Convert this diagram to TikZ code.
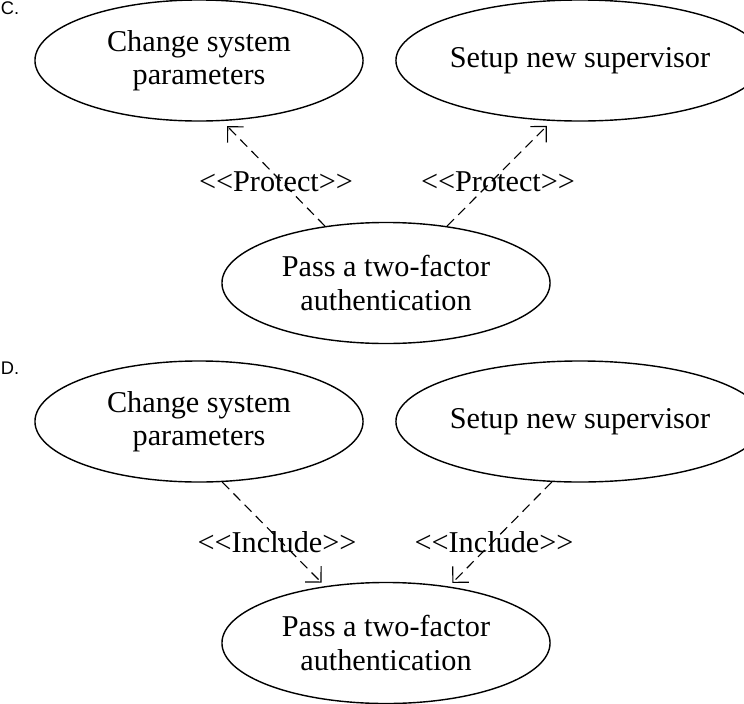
\documentclass[tikz,border=0pt]{standalone}
\usepackage{fontspec}
\setmainfont{Liberation Serif}
\newfontfamily\partfont{Liberation Sans}
\usetikzlibrary{shapes.geometric,arrows.meta}
\begin{document}
\begin{tikzpicture}[x=0.025cm,y=-0.025cm,
  usecase/.style={draw,ellipse,line width=1pt,minimum width=8.2cm,minimum height=3.025cm,
    inner sep=0pt,align=center,font=\fontsize{21.5}{23.5}\selectfont},
  stereo/.style={inner sep=0pt,font=\fontsize{21.5}{23.5}\selectfont},
  dep/.style={dashed,dash pattern=on 7pt off 4.3pt,line width=0.8pt,
    -{Straight Barb[length=8pt,width=16pt]},shorten >=5pt},
  partlabel/.style={inner sep=0pt,font=\partfont\fontsize{13}{15}\selectfont}]
\useasboundingbox (0,0) rectangle (744,704);
% C.
\node[partlabel] (partC) at (10,8) {C.};
\node[usecase] (chgC) at (199,60.5) {Change system\\parameters};
\node[usecase] (setC) at (580,60.5) {Setup new supervisor};
\node[usecase] (passC) at (386,283) {Pass a two-factor\\authentication};
\draw[dep] (passC.137) -- (chgC.-69.5);
\draw[dep] (passC.43) -- (setC.-115.5);
\node[stereo] (protL) at (276,182) {{<}{<}Protect{>}{>}};
\node[stereo] (protR) at (498,182) {{<}{<}Protect{>}{>}};
% D.
\node[partlabel] (partD) at (10,368) {D.};
\node[usecase] (chgD) at (199,421.5) {Change system\\parameters};
\node[usecase] (setD) at (580,421.5) {Setup new supervisor};
\node[usecase] (passD) at (386,643) {Pass a two-factor\\authentication};
\draw[dep,shorten >=3.5pt] (chgD.-69.3) -- (passD.137.7);
\draw[dep,shorten >=3.5pt] (setD.-115.3) -- (passD.42.3);
\node[stereo] (inclL) at (277,542) {{<}{<}Include{>}{>}};
\node[stereo] (inclR) at (494,542) {{<}{<}Include{>}{>}};
\end{tikzpicture}
\end{document}
